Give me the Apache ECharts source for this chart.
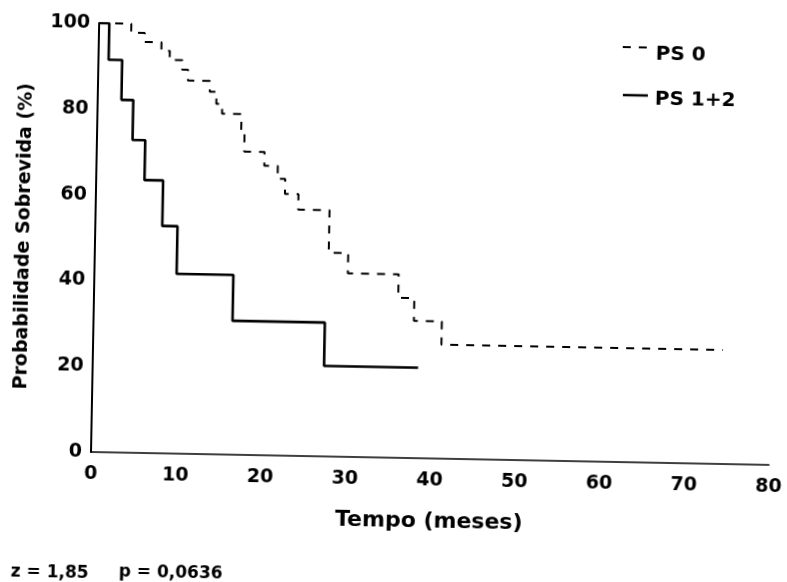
<!DOCTYPE html>
<html><head><meta charset="utf-8">
<script src="https://cdn.jsdelivr.net/npm/echarts@6/dist/echarts.min.js"></script>
<style>
html,body{margin:0;padding:0;background:#fff;overflow:hidden}
#chart{width:787px;height:582px;background:#fff;transform-origin:91px 452px;transform:rotate(1.09deg)}
</style>
</head><body><div id="chart"></div>
<script>
// ---- data (Kaplan-Meier curves) ----
const seriesNames = ['PS 0', 'PS 1+2'];
const timesPS0 = [0, 3.8, 5.4, 7.4, 8.4, 9.9, 10.6, 13.2, 14.0, 14.7, 17.0, 17.4, 19.8, 21.4, 22.3, 23.9, 27.6, 29.9, 35.9, 37.8, 41.1, 74.3];
const survPS0  = [100, 97.9, 95.8, 93.8, 91.7, 89.5, 87.0, 84.5, 81.7, 79.4, 75.0, 70.7, 67.5, 64.5, 61.0, 57.4, 47.5, 42.8, 37.3, 32.0, 26.6, 26.6];
const timesPS12 = [0, 1.2, 2.8, 4.2, 5.7, 7.9, 9.7, 16.4, 27.3, 38.4];
const survPS12  = [100, 91.5, 82.2, 72.9, 63.6, 53.0, 41.9, 31.2, 21.1, 21.1];
const xRange = [0, 80, 10];
const yRange = [0, 100, 20];
const xTitle = 'Tempo (meses)';
const yTitle = 'Probabilidade Sobrevida (%)';
const statsTexts = ['z = 1,85', 'p = 0,0636'];

const FONT = 'DejaVu Sans';
const pairs = (t, s) => t.map((v, i) => [v, s[i]]);

const chart = echarts.init(document.getElementById('chart'), null, {renderer: 'canvas'});
chart.setOption({
  animation: false,
  backgroundColor: '#fff',
  grid: {left: 91, right: 18, top: 23, bottom: 130, containLabel: false},
  xAxis: {
    type: 'value', min: xRange[0], max: xRange[1], interval: xRange[2],
    name: xTitle, nameLocation: 'middle', nameGap: 52,
    nameTextStyle: {fontFamily: FONT, fontWeight: 'bold', fontSize: 22, color: '#000'},
    axisLine: {show: true, onZero: false, lineStyle: {color: '#000', width: 1.5}},
    axisTick: {show: false}, splitLine: {show: false},
    axisLabel: {margin: 13, fontFamily: FONT, fontWeight: 'bold', fontSize: 19, color: '#000'}
  },
  yAxis: {
    type: 'value', min: yRange[0], max: yRange[1], interval: yRange[2],
    name: yTitle, nameLocation: 'middle', nameGap: 61, nameRotate: 90,
    nameTextStyle: {fontFamily: FONT, fontWeight: 'bold', fontSize: 19, color: '#000'},
    axisLine: {show: true, lineStyle: {color: '#000', width: 2}},
    axisTick: {show: false}, splitLine: {show: false},
    axisLabel: {margin: 9, fontFamily: FONT, fontWeight: 'bold', fontSize: 19, color: '#000'}
  },
  series: [
    {name: seriesNames[0], type: 'line', step: 'end', symbol: 'none',
     data: pairs(timesPS0, survPS0),
     lineStyle: {color: '#000', width: 2, type: [8, 8], cap: 'butt'}},
    {name: seriesNames[1], type: 'line', step: 'end', symbol: 'none',
     data: pairs(timesPS12, survPS12),
     lineStyle: {color: '#000', width: 2.6}}
  ],
  graphic: [
    {type: 'line', shape: {x1: 615, y1: 37, x2: 641, y2: 37}, style: {stroke: '#000', lineWidth: 2, lineDash: [8, 8]}},
    {type: 'text', x: 648, y: 44, style: {text: seriesNames[0], fontFamily: FONT, fontWeight: 'bold', fontSize: 20, fill: '#000', verticalAlign: 'middle', align: 'left'}},
    {type: 'line', shape: {x1: 616, y1: 85, x2: 641, y2: 85}, style: {stroke: '#000', lineWidth: 2.5}},
    {type: 'text', x: 648, y: 89, style: {text: seriesNames[1], fontFamily: FONT, fontWeight: 'bold', fontSize: 20, fill: '#000', verticalAlign: 'middle', align: 'left'}},
    {type: 'text', x: 13, y: 574, style: {text: statsTexts[0], fontFamily: FONT, fontWeight: 'bold', fontSize: 17, fill: '#000', verticalAlign: 'middle', align: 'left'}},
    {type: 'text', x: 121, y: 572, style: {text: statsTexts[1], fontFamily: FONT, fontWeight: 'bold', fontSize: 17, fill: '#000', verticalAlign: 'middle', align: 'left'}}
  ]
});
</script>
</body></html>
